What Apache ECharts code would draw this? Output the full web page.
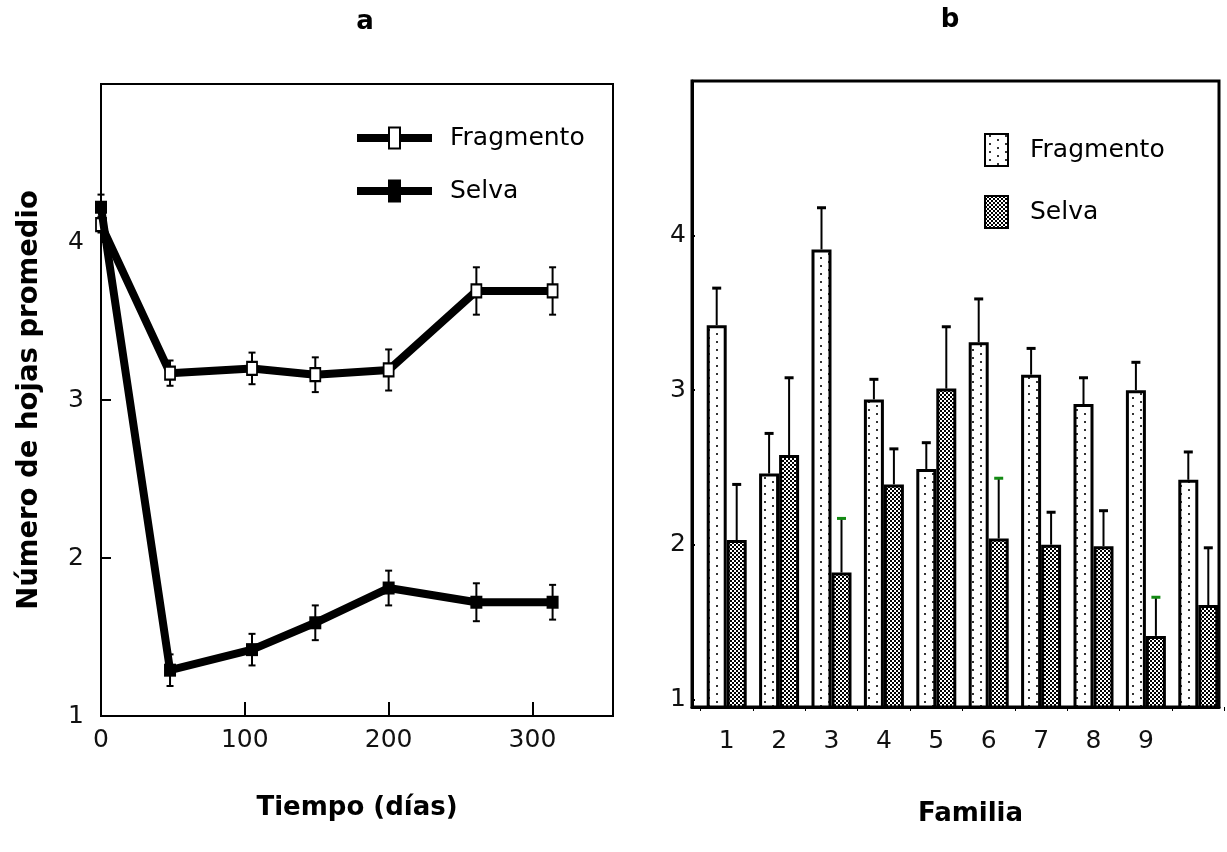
<!DOCTYPE html>
<html>
<head>
<meta charset="utf-8">
<script src="https://cdn.jsdelivr.net/npm/echarts@6/dist/echarts.min.js"></script>
<style>
  html, body { margin: 0; padding: 0; background: #fff; }
  #chart { width: 1227px; height: 852px; }
</style>
</head>
<body>
<div id="chart"></div>
<script>
"use strict";

// panel a: mean leaves over time
const days = [0, 48, 105, 149, 200, 261, 314];
const fragmento = [4.11, 3.17, 3.20, 3.16, 3.19, 3.69, 3.69];
const fragmentoErr = [0.05, 0.08, 0.10, 0.11, 0.13, 0.15, 0.15];
const selva = [4.22, 1.29, 1.42, 1.59, 1.81, 1.72, 1.72];
const selvaErr = [0.08, 0.10, 0.10, 0.11, 0.11, 0.12, 0.11];
const dayTicks = [0, 100, 200, 300];
const leafTicks = [1, 2, 3, 4];

// panel b: mean leaves by family
const familias = ["1", "2", "3", "4", "5", "6", "7", "8", "9", ""];
const famFragmento = [3.42, 2.46, 3.91, 2.94, 2.49, 3.31, 3.10, 2.91, 3.00, 2.42];
const famFragmentoErr = [0.24, 0.26, 0.27, 0.13, 0.17, 0.28, 0.17, 0.17, 0.18, 0.18];
const famSelva = [2.03, 2.58, 1.82, 2.39, 3.01, 2.04, 2.00, 1.99, 1.41, 1.61];
const famSelvaErr = [0.36, 0.50, 0.35, 0.23, 0.40, 0.39, 0.21, 0.23, 0.25, 0.37];

const FONT = "DejaVu Sans";
const BAR_W = 20;
const greenCaps = [2, 5, 8]; // selva caps printed green in the original

function tile(w, h, draw) {
  const c = document.createElement("canvas");
  c.width = w; c.height = h;
  draw(c.getContext("2d"));
  return { image: c, repeat: "repeat" };
}
const dots = tile(16, 8, (g) => {
  g.fillStyle = "#fff"; g.fillRect(0, 0, 16, 8);
  g.fillStyle = "#333"; g.fillRect(4, 1, 2, 2); g.fillRect(12, 5, 2, 2);
});
const checker = tile(4, 4, (g) => {
  g.fillStyle = "#000"; g.fillRect(0, 0, 4, 4);
  g.fillStyle = "#fff"; g.fillRect(0, 0, 2, 2); g.fillRect(2, 2, 2, 2);
});

const fragIcon = "path://M0 7.5H31V15.5H0Z M44 7.5H75V15.5H44Z M31 0H44V23H31Z M33 2V21H42V2Z";
const selvaIcon = "path://M0 7.5H75V15.5H0Z M31 0H44V23H31Z";

function seLine(x1, y1, x2, y2, color, w) {
  return { type: "line", shape: { x1, y1, x2, y2 }, style: { stroke: color, lineWidth: w } };
}

// symmetric error bars for panel a
function bothWays(params, api) {
  const x = api.value(0), y = api.value(1), e = api.value(2);
  const hi = api.coord([x, y + e]);
  const lo = api.coord([x, y - e]);
  return { type: "group", children: [
    seLine(hi[0], hi[1], lo[0], lo[1], "#000", 2),
    seLine(hi[0] - 3.5, hi[1], hi[0] + 3.5, hi[1], "#000", 2),
    seLine(lo[0] - 3.5, lo[1], lo[0] + 3.5, lo[1], "#000", 2),
  ] };
}

// upward error bars for panel b, shifted onto the bar of each series
function upward(shift, greens) {
  return (params, api) => {
    const i = api.value(0), y = api.value(1), e = api.value(2);
    const base = api.coord([i, y]);
    const top = api.coord([i, y + e]);
    const x = base[0] + shift;
    const cap = greens.includes(i) ? "#138a13" : "#000";
    return { type: "group", children: [
      seLine(x, base[1], x, top[1], "#000", 2),
      seLine(x - 4.5, top[1], x + 4.5, top[1], cap, 3),
    ] };
  };
}

const label = { color: "#111", fontFamily: FONT, fontSize: 25 };
const title = { color: "#000", fontFamily: FONT, fontSize: 26, fontWeight: "bold" };
const black = { lineStyle: { color: "#000", width: 2 } };

const chart = echarts.init(document.getElementById("chart"), null, { renderer: "canvas" });
chart.setOption({
  animation: false,
  backgroundColor: "#fff",
  graphic: [
    { type: "text", x: 365, y: 22, style: { text: "a", align: "center", verticalAlign: "middle", font: "bold 26px '" + FONT + "'", fill: "#000" } },
    { type: "text", x: 950, y: 20, style: { text: "b", align: "center", verticalAlign: "middle", font: "bold 26px '" + FONT + "'", fill: "#000" } },
  ],
  grid: [
    { left: 101, top: 84, width: 512, height: 632, show: true, borderColor: "#000", borderWidth: 2 },
    { left: 692, top: 81, width: 527, height: 626, show: true, borderColor: "#000", borderWidth: 3 },
    { left: 700.5, top: 81, width: 524, height: 626 },
  ],
  xAxis: [
    {
      type: "value", gridIndex: 0, min: 0, max: 356,
      axisLine: black, splitLine: { show: false },
      axisTick: { inside: true, length: 14, customValues: dayTicks, lineStyle: { color: "#000", width: 2 } },
      axisLabel: { ...label, margin: 12, customValues: dayTicks },
      name: "Tiempo (días)", nameLocation: "middle", nameGap: 79, nameTextStyle: title,
    },
    {
      type: "value", gridIndex: 1, min: 0, max: 1,
      axisLine: { lineStyle: { color: "#000", width: 3 } }, splitLine: { show: false },
      axisTick: { show: false }, axisLabel: { show: false },
      name: "Familia", nameLocation: "middle", nameGap: 94, nameTextStyle: { ...title, padding: [0, 0, 0, 30] },
    },
    {
      type: "category", gridIndex: 2, data: familias, boundaryGap: true,
      axisLine: { show: false },
      axisTick: { show: true, inside: false, length: 4, lineStyle: { color: "#000", width: 1 } },
      axisLabel: { ...label, margin: 22, interval: 0 },
    },
  ],
  yAxis: [
    {
      type: "value", gridIndex: 0, min: 1, max: 5,
      axisLine: { show: true, lineStyle: { color: "#000", width: 2 } }, splitLine: { show: false },
      axisTick: { show: true, inside: true, length: 10, customValues: [1, 2, 3, 4, 5], lineStyle: { color: "#000", width: 2 } },
      axisLabel: { ...label, margin: 17, padding: [0, 0, 14, 0], customValues: leafTicks },
      name: "Número de hojas promedio", nameLocation: "middle", nameGap: 57, nameTextStyle: { ...title, fontSize: 27.5 },
    },
    {
      type: "value", gridIndex: 1, min: 0.95, max: 5,
      axisLine: { show: true, lineStyle: { color: "#000", width: 3 } }, splitLine: { show: false },
      axisTick: { show: true, inside: true, length: 3, customValues: leafTicks, lineStyle: { color: "#000", width: 2 } },
      axisLabel: { ...label, margin: 6, padding: [0, 0, 16, 0], customValues: leafTicks },
    },
    { type: "value", gridIndex: 2, min: 0.95, max: 5, show: false },
  ],
  legend: [
    {
      orient: "vertical", left: 352, top: 120.5, itemWidth: 75, itemHeight: 23, itemGap: 28,
      textStyle: { ...label, color: "#000", padding: [0, 0, 0, 13] },
      selectedMode: false,
      data: [
        { name: "Fragmento", icon: fragIcon, itemStyle: { color: "#000", borderWidth: 0 } },
        { name: "Selva", icon: selvaIcon, itemStyle: { color: "#000", borderWidth: 0 } },
      ],
    },
    {
      orient: "vertical", left: 979, top: 128, itemWidth: 23, itemHeight: 32, itemGap: 28,
      textStyle: { ...label, color: "#000", padding: [0, 0, 0, 17] },
      selectedMode: false,
      data: [
        { name: "Fragmento", icon: "rect", itemStyle: { color: dots, borderColor: "#000", borderWidth: 2 } },
        { name: "Selva", icon: "rect", itemStyle: { color: checker, borderColor: "#000", borderWidth: 2 } },
      ],
    },
  ],
  series: [
    {
      name: "Fragmento err", type: "custom", xAxisIndex: 0, yAxisIndex: 0, z: 1,
      data: days.map((d, i) => [d, fragmento[i], fragmentoErr[i]]), renderItem: bothWays,
    },
    {
      name: "Selva err", type: "custom", xAxisIndex: 0, yAxisIndex: 0, z: 1,
      data: days.map((d, i) => [d, selva[i], selvaErr[i]]), renderItem: bothWays,
    },
    {
      name: "Fragmento", type: "line", xAxisIndex: 0, yAxisIndex: 0, z: 3,
      data: days.map((d, i) => [d, fragmento[i]]),
      symbol: "rect", symbolSize: [10, 13],
      lineStyle: { color: "#000", width: 8 },
      itemStyle: { color: "#fff", borderColor: "#000", borderWidth: 2 },
    },
    {
      name: "Selva", type: "line", xAxisIndex: 0, yAxisIndex: 0, z: 4,
      data: days.map((d, i) => [d, selva[i]]),
      symbol: "rect", symbolSize: [12, 13],
      lineStyle: { color: "#000", width: 8 },
      itemStyle: { color: "#000", borderColor: "#000", borderWidth: 0 },
    },
    {
      name: "Fragmento", type: "bar", xAxisIndex: 2, yAxisIndex: 2, barWidth: BAR_W, barGap: "0%",
      data: famFragmento,
      itemStyle: { color: dots, borderColor: "#000", borderWidth: 3 },
    },
    {
      name: "Selva", type: "bar", xAxisIndex: 2, yAxisIndex: 2, barWidth: BAR_W, barGap: "0%",
      data: famSelva,
      itemStyle: { color: checker, borderColor: "#000", borderWidth: 3 },
    },
    {
      name: "Fragmento b err", type: "custom", xAxisIndex: 2, yAxisIndex: 2, z: 1,
      data: famFragmento.map((v, i) => [i, v, famFragmentoErr[i]]), renderItem: upward(-BAR_W / 2, []),
    },
    {
      name: "Selva b err", type: "custom", xAxisIndex: 2, yAxisIndex: 2, z: 1,
      data: famSelva.map((v, i) => [i, v, famSelvaErr[i]]), renderItem: upward(BAR_W / 2, greenCaps),
    },
  ],
});
</script>
</body>
</html>
